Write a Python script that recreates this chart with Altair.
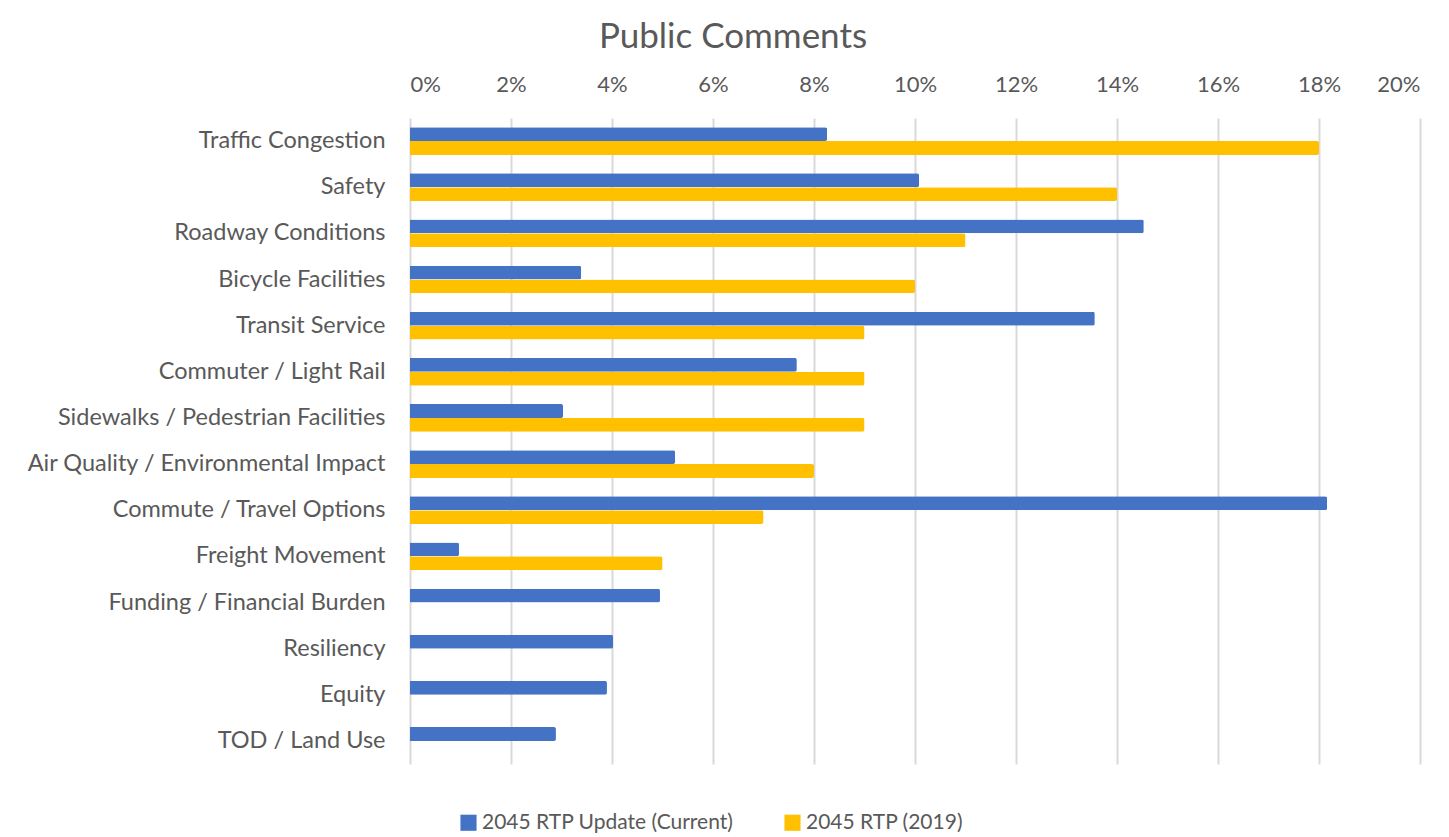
import altair as alt
import pandas as pd

categories = [
    "Traffic Congestion", "Safety", "Roadway Conditions", "Bicycle Facilities",
    "Transit Service", "Commuter / Light Rail", "Sidewalks / Pedestrian Facilities",
    "Air Quality / Environmental Impact", "Commute / Travel Options", "Freight Movement",
    "Funding / Financial Burden", "Resiliency", "Equity", "TOD / Land Use",
]
current = [8.26, 10.08, 14.53, 3.39, 13.56, 7.66, 3.03, 5.25, 18.16, 0.97, 4.95, 4.02, 3.9, 2.89]
rtp2019 = [18, 14, 11, 10, 9, 9, 9, 8, 7, 5, None, None, None, None]
series = ["2045 RTP Update (Current)", "2045 RTP (2019)"]
colors = ["#4472C4", "#FFC000"]

rows = []
for c, a, b in zip(categories, current, rtp2019):
    rows.append({"cat": c, "series": series[0], "v": a / 100})
    if b is not None:
        rows.append({"cat": c, "series": series[1], "v": b / 100})
df = pd.DataFrame(rows)

FONT = "Lato"
GRAY = "#595959"

chart = alt.Chart(df).mark_bar(cornerRadiusEnd=2).encode(
    x=alt.X("v:Q", scale=alt.Scale(domain=[0, 0.2]),
            axis=alt.Axis(orient="top", format=".0%", values=[i / 100 for i in range(0, 21, 2)],
                          domain=False, ticks=False, labelPadding=22, labelFontSize=22,
                          labelColor=GRAY, labelFont=FONT, gridColor="#d9d9d9", gridWidth=2,
                          title=None)),
    y=alt.Y("cat:N", sort=categories, scale=alt.Scale(paddingInner=0.4, paddingOuter=0.2),
            axis=alt.Axis(domain=False, ticks=False, grid=False, labelPadding=25,
                          labelFontSize=23.5, labelColor=GRAY, labelFont=FONT, title=None,
                          labelLimit=500)),
    yOffset=alt.YOffset("series:N", sort=series),
    color=alt.Color("series:N", sort=series,
                    scale=alt.Scale(domain=series, range=colors),
                    legend=alt.Legend(orient="none", direction="horizontal", legendX=48,
                                      legendY=694, title=None, symbolType="square",
                                      symbolSize=260, symbolStrokeWidth=0, labelFontSize=21,
                                      labelColor=GRAY, labelFont=FONT, columnPadding=48,
                                      symbolOffset=0, labelOffset=3, labelLimit=500)),
).properties(
    width=1010, height=646,
    title=alt.TitleParams("Public Comments", fontSize=35, font=FONT, fontWeight="normal",
                          color=GRAY, anchor="middle", dx=-182, offset=18),
    autosize=alt.AutoSizeParams(type="none"),
    padding={"left": 402, "top": 110, "right": 20, "bottom": 80},
).configure_view(stroke=None)

chart.save("out.html", embed_options={"renderer": "svg", "actions": False})
